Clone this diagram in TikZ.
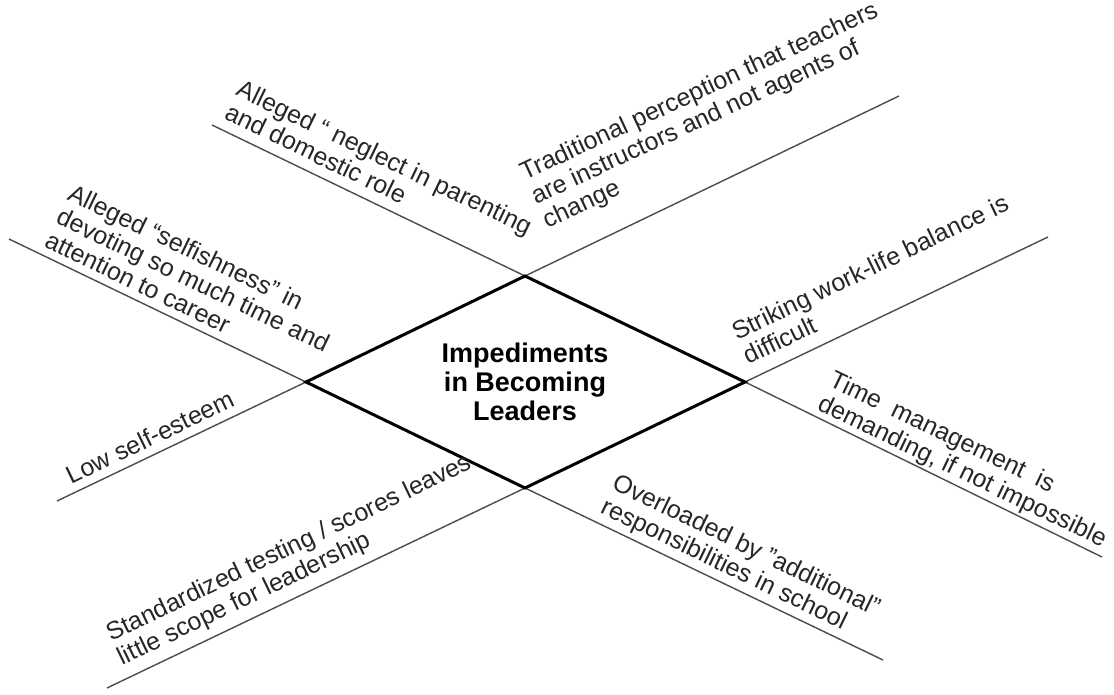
\documentclass[tikz,border=0pt]{standalone}
\usepackage{fontspec}
\setmainfont{Liberation Sans}
\begin{document}
\begin{tikzpicture}[x=1pt, y=-1pt,
    thin line/.style={draw=black!70, line width=1.4pt},
    edge/.style={draw=black, line width=3pt, line cap=round, line join=miter},
    cause/.style={anchor=south west, align=left, inner sep=0pt, text=black!85,
        font=\fontsize{25}{26.5}\selectfont, execute at end node={\strut}},
    up text/.style={cause, rotate=25.7},
    down text/.style={cause, rotate=-25.7}]
    \useasboundingbox (0,0) rectangle (1114,694);
    % diamond corners
    \coordinate (top) at (525,276);
    \coordinate (left) at (306,382);
    \coordinate (right) at (745,382);
    \coordinate (bottom) at (525,488);
    % free ends of the four lines
    \coordinate (neglect end) at (212,125);
    \coordinate (time end) at (1102,557);
    \coordinate (traditional end) at (899,96);
    \coordinate (esteem end) at (57,501);
    \coordinate (selfish end) at (9,239);
    \coordinate (overload end) at (883,660);
    \coordinate (striking end) at (1048,237);
    \coordinate (testing end) at (107,688);
    % the four lines through the corners
    \draw[thin line] (neglect end) -- (top) -- (right) -- (time end);
    \draw[thin line] (traditional end) -- (top) -- (left) -- (esteem end);
    \draw[thin line] (selfish end) -- (left) -- (bottom) -- (overload end);
    \draw[thin line] (striking end) -- (right) -- (bottom) -- (testing end);
    % diamond
    \draw[edge] (top) -- (right) -- (bottom) -- (left) -- cycle;
    \node[font=\bfseries\fontsize{27}{29}\selectfont, align=center] (title) at (525,382) {Impediments\\in Becoming\\Leaders};
    % upper causes
    \node[down text] (neglect) at (219.7,126.1) {Alleged “ neglect in parenting\\and domestic role};
    \node[up text, rotate=-0.8] (traditional) at (550.5,236) {Traditional perception that teachers\\are instructors and not agents of\\change};
    \node[down text] (selfish) at (39.7,254.1) {Alleged “selfishness” in\\devoting so much time and\\attention to career};
    \node[up text] (striking) at (752.3,372.1) {Striking work-life balance is\\difficult};
    % lower causes
    \node[up text] (esteem) at (75.3,492.1) {Low self-esteem};
    \node[up text] (testing) at (126.3,673.1) {Standardized testing / scores leaves\\little scope for leadership};
    \node[down text] (time) at (812.7,417.1) {Time\ \ management\ \ is\\demanding, if not impossible};
    \node[down text] (overload) at (595.7,520.1) {Overloaded by "additional"\\responsibilities in school};
\end{tikzpicture}
\end{document}
